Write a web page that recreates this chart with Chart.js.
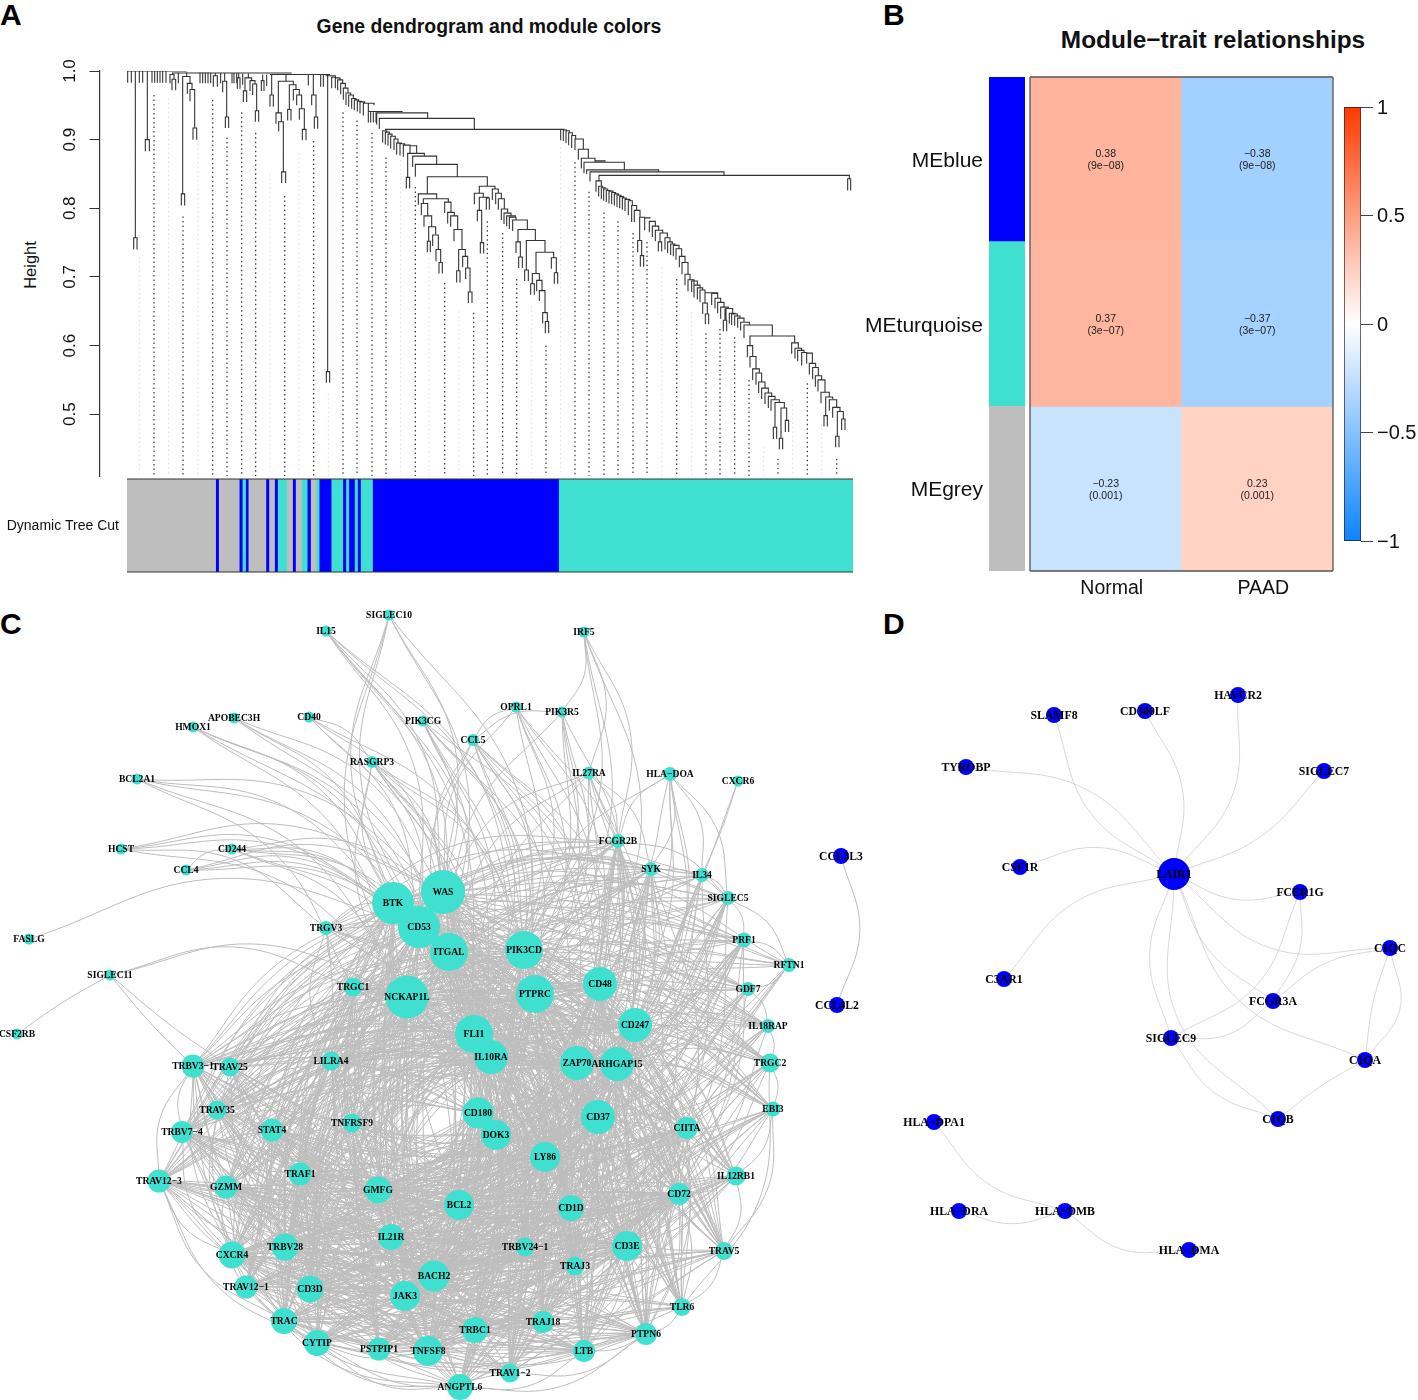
<!DOCTYPE html>
<html>
<head>
<meta charset="utf-8">
<title>WGCNA modules</title>
<script src="https://cdn.jsdelivr.net/npm/chart.js@4"></script>
<style>
    body { margin: 0; background: #fff; font-family: "Liberation Sans", Arial, sans-serif; }
    #page { position: relative; width: 1418px; height: 1400px; overflow: hidden; }
    canvas { position: absolute; }
    .letra { position: absolute; font-weight: bold; font-size: 30px; line-height: 30px; color: #000; }
    .titulo { position: absolute; font-weight: bold; color: #111; transform: translateX(-50%); white-space: nowrap; }
    .altura { position: absolute; left: 30px; top: 265px; font-size: 16.5px; color: #111; transform: translate(-50%, -50%) rotate(-90deg); }
</style>
</head>
<body>
<div id="page">
    <div class="letra" style="left:0;top:0">A</div>
    <div class="letra" style="left:883px;top:0">B</div>
    <div class="letra" style="left:0;top:609px">C</div>
    <div class="letra" style="left:883px;top:609px">D</div>
    <div class="titulo" style="left:489px;top:15px;font-size:19.4px">Gene dendrogram and module colors</div>
    <div class="titulo" style="left:1213px;top:26px;font-size:24.4px">Module−trait relationships</div>
    <div class="altura">Height</div>
    <canvas id="network" width="880" height="800" style="left:0;top:600px"></canvas>
    <canvas id="hubs" width="538" height="800" style="left:880px;top:600px"></canvas>
    <canvas id="dendro" width="848" height="480" style="left:22px;top:30px"></canvas>
    <canvas id="band" width="870" height="170" style="left:0;top:440px"></canvas>
    <canvas id="modules" width="170" height="560" style="left:860px;top:40px"></canvas>
    <canvas id="heat" width="330" height="550" style="left:1020px;top:60px"></canvas>
    <canvas id="legendBar" width="88" height="470" style="left:1330px;top:90px"></canvas>
</div>
<script>
// Panel A: leaf position vs height
const heightTicks = [0.5, 0.6, 0.7, 0.8, 0.9, 1.0];

// [x, hTop, hBottom]
const stems = [
    [203,1,.983],[214,1,.983],[226,1,.757],[238,1,.983],[248,1,.983],[262,1,.9],[276,1,.983],[284,1,.983],
    [292,1,.983],[300,1,.983],[308,1,.983],[318,1,.983],[338,.998,.995],[355,.998,.982],[380,.998,.992],
    [420,.998,.982],[428,.998,.982],[436,.998,.982],[444,.998,.982],[452,.997,.982],[466,.997,.993],
    [482,.997,.982],[494,.997,.985],[516,.997,.982],[522,.997,.982],[530,.997,.982],[536,.997,.99],
    [548,.996,.98],[565,.996,.99],[608,.995,.986],[620,.995,.978],[635,.995,.965],[678,.995,.985],
    [745,.995,.979],[760,.995,.965],[782,.994,.977],[790,.994,.977],[803,.994,.562],[932,.941,.925],
    [940,.94,.925],[948,.94,.925],[925,.953,.941],[1995,.654,.637]
];

// [xLeft, xRight, h, hLeftChild, hRightChild]
const merges = [
    [203,380,1,1,1],[340,695,.997,.997,.997],[630,810,.995,.995,.995],[797,826,.993,.993,.991],
    [221,231,.757,.74,.74],[256,268,.9,.883,.883],[330,342,.995,.982,.988],[336,347,.988,.972,.972],
    [368,390,.992,.821,.982],[364,374,.821,.804,.804],[382,396,.982,.967,.973],[390,404,.973,.956,.917],
    [399,410,.917,.9,.9],[460,472,.993,.977,.977],[488,500,.985,.969,.933],[496,506,.933,.917,.917],
    [532,540,.99,.974,.974],[555,575,.99,.971,.986],[550,560,.971,.955,.955],[570,585,.986,.971,.981],
    [578,590,.981,.965,.942],[586,596,.942,.926,.926],[604,612,.986,.971,.971],[630,640,.965,.948,.948],
    [655,700,.985,.939,.98],[648,664,.939,.923,.926],[656,670,.926,.912,.853],[665,677,.853,.837,.837],
    [688,708,.98,.944,.973],[683,693,.944,.928,.928],[700,718,.973,.957,.965],[710,725,.965,.95,.945],
    [718,733,.945,.929,.915],[727,738,.915,.899,.899],[755,768,.965,.95,.933],[763,773,.933,.916,.916],
    [799,809,.562,.546,.546],
    [815,826,.991,.975,.99],[826,840,.99,.975,.987],[833,848,.987,.972,.982],[842,856,.982,.966,.975],
    [850,864,.975,.958,.968],[858,872,.968,.95,.965],[866,880,.965,.948,.96],[875,888,.96,.945,.958],
    [883,896,.958,.943,.956],[892,904,.956,.941,.955],[900,914,.955,.938,.953],[910,942,.953,.935,.95],
    [925,1028,.941,.925,.941],[950,1103,.939,.922,.931],[958,1243,.931,.916,.915],[975,1505,.915,.915,.915],
    [968,980,.913,.896,.911],[976,988,.911,.893,.908],[984,996,.908,.891,.905],[992,1006,.905,.887,.901],
    [1002,1014,.901,.885,.895],[1010,1024,.895,.878,.894],[1020,1034,.894,.877,.892],[1030,1050,.892,.875,.891],
    [1050,1070,.891,.88,.88],[1043,1093,.88,.845,.876],[1039,1049,.845,.829,.829],[1058,1130,.876,.86,.864],
    [1066,1192,.864,.846,.846],[1102,1282,.846,.821,.832],[1075,1130,.821,.805,.814],[1090,1165,.814,.807,.809],
    [1084,1103,.807,.79,.789],[1092,1115,.789,.773,.773],[1106,1127,.773,.752,.762],[1102,1111,.752,.736,.736],
    [1118,1135,.761,.745,.74],[1128,1142,.74,.723,.721],[1137,1147,.721,.705,.705],[1154,1173,.809,.793,.794],
    [1163,1183,.794,.778,.789],[1172,1193,.789,.773,.769],[1182,1206,.769,.752,.74],[1196,1216,.74,.709,.73],
    [1190,1200,.709,.692,.692],[1208,1223,.73,.714,.713],[1217,1230,.713,.697,.678],[1225,1236,.678,.662,.662],
    [1258,1305,.832,.822,.828],[1243,1270,.822,.806,.816],[1258,1285,.816,.797,.815],[1252,1265,.797,.781,.75],
    [1261,1271,.75,.734,.734],[1279,1288,.815,.798,.798],[1297,1315,.828,.812,.822],[1307,1324,.822,.806,.814],
    [1315,1333,.814,.798,.799],[1324,1343,.799,.783,.793],[1332,1353,.793,.777,.789],[1340,1366,.789,.774,.787],
    [1348,1368,.787,.77,.783],[1358,1402,.783,.767,.769],[1374,1426,.769,.751,.753],[1368,1381,.751,.735,.729],
    [1376,1387,.729,.713,.713],[1399,1455,.753,.71,.736],[1394,1405,.71,.694,.694],[1428,1481,.736,.705,.728],
    [1417,1438,.705,.69,.695],[1412,1423,.69,.674,.674],[1430,1446,.695,.679,.68],[1438,1455,.68,.665,.648],
    [1448,1462,.648,.632,.635],[1456,1466,.635,.618,.618],[1474,1489,.728,.712,.706],[1483,1493,.706,.69,.69],
    [1502,1512,.915,.899,.914],[1510,1520,.914,.898,.913],[1518,1528,.913,.895,.91],[1526,1537,.91,.892,.906],
    [1535,1547,.906,.888,.901],[1545,1570,.901,.885,.886],[1555,1585,.886,.871,.873],[1564,1605,.873,.858,.867],
    [1572,1693,.867,.851,.857],[1605,1637,.869,.869,.869],[1580,1796,.856,.85,.853],[1590,1992,.853,.839,.848],
    [1617,2368,.848,.841,.843],[2363,2372,.843,.826,.826],[1608,1624,.84,.824,.832],[1616,1628,.832,.817,.83],
    [1624,1636,.83,.813,.828],[1631,1643,.828,.811,.826],[1639,1651,.826,.809,.825],[1647,1659,.825,.807,.823],
    [1655,1667,.823,.806,.821],[1663,1675,.821,.804,.819],[1671,1683,.819,.802,.817],[1679,1691,.817,.8,.815],
    [1687,1699,.815,.798,.813],[1695,1710,.813,.796,.811],[1705,1717,.811,.79,.804],[1715,1730,.804,.78,.797],
    [1723,1740,.797,.78,.787],[1739,1754,.787,.753,.786],[1733,1745,.753,.736,.731],[1741,1751,.731,.715,.715],
    [1754,1770,.786,.768,.785],[1768,1786,.781,.765,.774],[1777,1796,.774,.758,.768],[1786,1808,.768,.752,.764],
    [1800,1822,.764,.751,.757],[1795,1805,.751,.737,.737],[1815,1830,.757,.74,.751],[1823,1837,.751,.735,.748],
    [1832,1845,.748,.732,.746],[1840,1857,.746,.73,.741],[1848,1865,.741,.725,.73],[1858,1875,.73,.714,.721],
    [1866,1884,.721,.704,.704],[1875,1890,.704,.688,.696],[1884,1902,.696,.679,.688],[1895,1912,.694,.678,.688],
    [1902,1920,.688,.67,.684],[1912,1928,.684,.667,.681],[1920,1935,.681,.663,.677],[1935,1973,.677,.661,.676],
    [1928,1942,.662,.646,.646],[1936,1946,.646,.631,.631],[1955,1973,.676,.659,.669],[1965,1982,.669,.654,.663],
    [1973,1992,.663,.647,.656],[1982,2005,.656,.639,.654],[1990,2000,.637,.621,.621],[1998,2018,.654,.636,.647],
    [2008,2025,.647,.632,.646],[2015,2032,.646,.63,.642],[2024,2040,.643,.629,.64],[2033,2052,.64,.626,.634],
    [2042,2068,.634,.622,.63],[2052,2137,.63,.611,.614],[2070,2204,.614,.6,.604],[2062,2078,.6,.583,.584],
    [2070,2088,.584,.568,.566],[2078,2098,.566,.55,.56],[2088,2105,.56,.543,.547],[2096,2115,.547,.531,.538],
    [2105,2125,.538,.522,.531],[2115,2135,.531,.515,.526],[2125,2145,.526,.509,.521],[2133,2158,.521,.505,.517],
    [2145,2173,.517,.481,.509],[2140,2150,.481,.464,.464],[2163,2180,.509,.465,.491],[2158,2168,.465,.449,.449],
    [2176,2186,.491,.474,.474],[2195,2215,.604,.588,.596],[2205,2225,.596,.581,.593],[2213,2232,.593,.577,.59],
    [2225,2240,.59,.571,.589],[2240,2257,.589,.574,.574],[2248,2267,.574,.558,.568],[2258,2275,.568,.551,.556],
    [2266,2285,.556,.54,.55],[2274,2295,.55,.533,.532],[2283,2308,.532,.516,.525],[2297,2318,.525,.498,.522],
    [2292,2302,.498,.482,.482],[2308,2330,.521,.505,.51],[2318,2340,.51,.495,.504],[2332,2350,.504,.468,.493],
    [2327,2337,.468,.452,.452],[2345,2355,.493,.477,.477]
];

// [x, hTop] of the guide lines under the tree
const guidesDark = [
    [282,.965],[369,.788],[458,.958],[501,.903],[545,.94],[587,.91],[674,.818],[761,.898],[849,.94],[891,.928],
    [936,.91],[978,.874],[1066,.831],[1154,.691],[1241,.648],[1282,.781],[1328,.764],[1370,.697],[1458,.6],
    [1545,.867],[1587,.824],[1632,.794],[1674,.781],[1719,.764],[1761,.751],[1850,.697],[1938,.618],[1980,.624],
    [2024,.612],[2067,.55],[2154,.435],[2242,.545],[2330,.435]
];
const guidesFaint = [
    [238,.729],[326,.96],[414,.9],[630,.85],[717,.88],[805,.53],[1022,.87],[1107,.8],[1197,.65],[1415,.658],
    [1502,.889],[1805,.714],[1895,.649],[2110,.452],[2198,.521],[2285,.486]
];

const bandColors = ["#BEBEBE","#0000FF","#BEBEBE","#0000FF","#40E0D0","#0000FF","#BEBEBE","#0000FF","#BEBEBE","#0000FF",
    "#40E0D0","#BEBEBE","#0000FF","#BEBEBE","#40E0D0","#0000FF","#BEBEBE","#40E0D0","#0000FF","#40E0D0","#0000FF","#40E0D0",
    "#0000FF","#40E0D0","#0000FF","#40E0D0","#0000FF","#40E0D0"];
const bandWidths = [266,9,62,9,10,8,53,9,17,9,27,18,9,18,17,10,17,9,36,35,9,9,17,9,9,36,559,884];

// Panel B
const modules = ["MEblue", "MEturquoise", "MEgrey"];
const moduleColors = ["#0000FF", "#40E0D0", "#BEBEBE"];
const traits = ["Normal", "PAAD"];
const corNormal = [0.38, 0.37, -0.23];
const corPaad = [-0.38, -0.37, 0.23];
const pNormal = ["9e−08", "3e−07", "0.001"];
const pPaad = ["9e−08", "3e−07", "0.001"];
const legendTicks = [-1, -0.5, 0, 0.5, 1];

// Panel C
const geneNames = ["SIGLEC10","IL15","IRF5","APOBEC3H","HMOX1","CD40","PIK3CG","OPRL1","PIK3R5","CCL5","RASGRP3","IL27RA",
    "HLA−DOA","CXCR6","BCL2A1","HCST","CD244","CCL4","FCGR2B","SYK","IL34","SIGLEC5","TRGV3","FASLG","SIGLEC11","CSF2RB",
    "PRF1","RFTN1","GDF7","IL18RAP","TRGC2","EBI3","BTK","WAS","CD53","ITGAL","PIK3CD","CD48","PTPRC","NCKAP1L","TRGC1",
    "CD247","FLI1","IL10RA","ZAP70","ARHGAP15","LILRA4","TRBV3−1","TRAV25","TRAV35","STAT4","TNFRSF9","CD180","DOK3","CD37",
    "CIITA","TRBV7−4","TRAV12−3","GZMM","TRAF1","GMFG","LY86","IL12RB1","CD72","BCL2","CD1D","CXCR4","TRBV28","IL21R",
    "TRBV24−1","CD3E","TRAV5","TRAV12−1","BACH2","TRAJ3","CD3D","JAK3","TLR6","TRAC","TRAJ18","TRBC1","PTPN6","CYTIP",
    "PSTPIP1","TNFSF8","LTB","TRAV1−2","ANGPTL6","CCL3L3","CCL4L2"];
const layoutX = [389,326,584,234,193,309,423,516,562,473,372,589,670,738,137,121,232,186,618,651,702,728,326,29,110,17,
    744,789,748,768,770,773,393,443,419,449,524,600,535,407,353,635,474,491,577,617,331,193,230,217,272,352,478,496,598,
    687,182,159,226,300,378,545,736,679,459,571,232,285,391,525,627,724,246,434,575,310,405,682,284,543,475,646,317,379,
    428,584,510,460,841,837];
const layoutY = [615,631,632,718,727,717,721,707,712,740,762,773,774,781,779,849,849,870,841,869,875,898,928,939,975,1034,
    940,965,989,1026,1063,1109,903,892,927,952,950,984,994,997,987,1025,1034,1057,1063,1064,1061,1066,1067,1110,1130,1123,
    1113,1135,1117,1128,1132,1181,1187,1174,1190,1157,1176,1194,1205,1208,1255,1247,1237,1247,1246,1251,1287,1276,1266,
    1289,1296,1307,1321,1322,1330,1334,1343,1349,1351,1351,1373,1387,856,1005];
const geneDegree = [11,11,11,11,11,11,11,11,11,12,12,13,14,11,11,11,11,11,14,14,14,14,14,11,11,11,15,14,14,14,19,15,42,44,
    42,38,38,34,38,43,19,34,38,34,34,34,19,23,19,19,23,19,31,30,34,22,22,23,23,23,27,30,19,22,30,26,27,27,26,19,30,18,23,
    31,19,27,30,18,26,22,26,22,26,23,30,22,19,26,16,16];

// links read one by one where the net is sparse
const sparseLinks = {
    "SIGLEC10": ["BTK","WAS","CD53","NCKAP1L","ITGAL","PTPRC"],
    "IL15": ["WAS","CD53","PIK3CD","FLI1","ITGAL","PTPRC","IL10RA"],
    "IRF5": ["PIK3R5","IL27RA","FCGR2B","PIK3CD","CD48","PTPRC"],
    "APOBEC3H": ["WAS","BTK","FLI1","ITGAL"],
    "HMOX1": ["BTK","CD53","NCKAP1L","ITGAL","FLI1"],
    "CD40": ["RASGRP3","WAS","CD53","PIK3CD","FLI1"],
    "PIK3CG": ["WAS","ITGAL","PIK3CD","PTPRC","CD48","FLI1","ZAP70","IL10RA"],
    "OPRL1": ["CCL5","PIK3CD","PTPRC","CD48","CD247","WAS","FLI1","ZAP70"],
    "PIK3R5": ["CCL5","PIK3CD","PTPRC","CD48","FLI1","ITGAL","IL10RA"],
    "CCL5": ["WAS","ITGAL","PIK3CD","PTPRC","CD48","FLI1","IL10RA","ZAP70","CD247","ARHGAP15"],
    "RASGRP3": ["BTK","WAS","CD53","ITGAL","NCKAP1L","PIK3CD","FLI1","PTPRC","IL10RA","CD180"],
    "IL27RA": ["FCGR2B","WAS","PIK3CD","PTPRC","CD48","ITGAL","FLI1","ZAP70","SYK","ARHGAP15"],
    "HLA−DOA": ["FCGR2B","SYK","IL34","CD48","CD247","PTPRC","ZAP70","ARHGAP15","PIK3CD","SIGLEC5"],
    "BCL2A1": ["WAS","BTK","NCKAP1L","TRGC1","ITGAL"],
    "HCST": ["BTK","WAS","CD53","TRGV3","NCKAP1L"],
    "CD244": ["BTK","CD53","ITGAL","NCKAP1L","WAS","FLI1"],
    "CCL4": ["BTK","CD53","CD244","WAS","ITGAL"],
    "TRGV3": ["BTK","CD53","NCKAP1L","ITGAL","TRGC1","FLI1","PTPRC","IL10RA","LILRA4","DOK3","CD180","BCL2","SYK","FCGR2B"],
    "FASLG": ["CD53"],
    "SIGLEC11": ["NCKAP1L","TRGC1"],
    "CCL3L3": ["CCL4L2"]
};
// nearly straight in the picture
const straightLinks = [["SIGLEC11","CSF2RB"],["SIGLEC11","TRBV3−1"],["SIGLEC11","TRAV25"],["CXCR6","IL34"],["CXCR6","CD247"]];
const rimLinks = [
    ["TRAV12−3","TRBV3−1"],["TRAV12−3","CXCR4"],["TRAV12−3","TRAC"],["TRAV12−3","CYTIP"],["TRBV3−1","TRBV7−4"],
    ["TRBV7−4","CXCR4"],["CXCR4","ANGPTL6"],["TRAV12−1","ANGPTL6"],["TRAC","ANGPTL6"],["CYTIP","ANGPTL6"],["CYTIP","TRAV1−2"],
    ["ANGPTL6","LTB"],["ANGPTL6","PTPN6"],["TRAV1−2","PTPN6"],["PTPN6","TLR6"],["TLR6","TRAV5"],["TRAV5","IL12RB1"],
    ["TRAV5","EBI3"],["CD72","TRAV5"],["IL12RB1","EBI3"],["EBI3","TRGC2"],["TRGC2","IL18RAP"],["TRGC2","TLR6"],
    ["IL18RAP","GDF7"],["GDF7","RFTN1"],["RFTN1","PRF1"],["RFTN1","SIGLEC5"],["PRF1","SIGLEC5"],["SIGLEC5","IL34"],
    ["SYK","SIGLEC5"],["FCGR2B","SIGLEC5"],["WAS","SIGLEC5"],["WAS","RFTN1"],["BTK","PRF1"],["WAS","IL34"],
    ["BTK","SIGLEC5"],["CD53","IL34"],["NCKAP1L","PRF1"],["ITGAL","SIGLEC5"]
];
// each gene here is linked to the first coreLinks[i] genes of this ranking
const coreOrder = ["WAS","FLI1","BTK","ARHGAP15","NCKAP1L","CD37","PTPRC","BCL2","CD53","LY86","IL10RA","BACH2","ITGAL","CD3E",
    "PIK3CD","JAK3","ZAP70","GMFG","CD247","TRBV28","CD48","TNFSF8","DOK3","CXCR4","CD180","CD72","CD1D","TRAF1","IL21R","TRBC1",
    "CD3D","CIITA","STAT4","PTPN6","GZMM","TRAC","TRBV7−4","TRAJ18","TRAV12−3","LTB","TNFRSF9","TRAV5","TRBV24−1","TRBV3−1",
    "TRAJ3","CYTIP","LILRA4","IL12RB1","TRGC1","PSTPIP1","TRAV35","TLR6","TRAV25","ANGPTL6","TRAV12−1","TRAV1−2",
    "FCGR2B","SYK","IL34","SIGLEC5","PRF1","RFTN1","GDF7","IL18RAP","TRGC2","EBI3"];
const coreLinks = [0,1,2,3,4,5,6,7,8,9,10,11,12,13,14,15,16,17,18,19,20,21,22,23,24,25,26,27,28,29,30,31,32,33,34,35,33,37,33,
    38,38,30,38,36,38,36,38,30,36,32,30,28,30,32,30,30,24,26,16,20,26,12,20,20,22,24];

// Panel D
const hubNames = ["SLAMF8","CD300LF","HAVCR2","TYROBP","SIGLEC7","CSF1R","LAIR1","FCER1G","C3AR1","C1QC","FCGR3A","SIGLEC9",
    "C1QA","C1QB","HLA−DPA1","HLA−DRA","HLA−DMB","HLA−DMA"];
const hubX = [1054,1145,1238,966,1324,1020,1174,1300,1004,1390,1273,1171,1365,1278,934,959,1065,1189];
const hubY = [715,711,695,767,771,867,874,892,979,948,1001,1038,1060,1119,1122,1211,1211,1250];
const hubDegree = [16,16,16,16,16,16,32,16,16,16,16,16,16,16,16,16,16,16];
// [from, to, bow]
const hubLinks = [
    ["LAIR1","SLAMF8",-.15],["LAIR1","TYROBP",.15],["LAIR1","CD300LF",.14],["LAIR1","HAVCR2",.15],["LAIR1","SIGLEC7",.1],
    ["LAIR1","CSF1R",.15],["LAIR1","C3AR1",.14],["LAIR1","FCER1G",.13],["LAIR1","C1QC",.17],["LAIR1","FCGR3A",.12],
    ["LAIR1","C1QA",.17],["LAIR1","SIGLEC9",.14],["LAIR1","C1QB",.2],["FCER1G","SIGLEC9",-.15],["FCER1G","FCGR3A",-.12],
    ["FCGR3A","C1QC",-.1],["C1QC","C1QA",.04],["C1QC","C1QA",-.2],["C1QA","C1QB",.03],["SIGLEC9","C1QB",.13],
    ["SIGLEC9","FCGR3A",.15],["HLA−DPA1","HLA−DMB",.13],["HLA−DRA","HLA−DMB",.12],["HLA−DMB","HLA−DMA",.15]
];

const GAP = { x: NaN, y: NaN };

Chart.defaults.animation = false;
Chart.defaults.font.family = '"Liberation Sans", Arial, sans-serif';
Chart.defaults.layout.autoPadding = false;
Chart.defaults.plugins.legend.display = false;
Chart.defaults.plugins.tooltip.enabled = false;

// Frame around a plot area
const framePlugin = {
    id: 'frame',
    afterDatasetsDraw(chart, args, opts) {
        if (!opts.color) return;
        const { ctx, chartArea: a } = chart;
        ctx.save();
        ctx.strokeStyle = opts.color;
        ctx.lineWidth = opts.width || 1;
        ctx.beginPath();
        ctx.moveTo(a.left, a.top); ctx.lineTo(a.right, a.top);
        ctx.moveTo(a.left, a.bottom); ctx.lineTo(a.right, a.bottom);
        if (!opts.onlyLines) {
            ctx.moveTo(a.left, a.top); ctx.lineTo(a.left, a.bottom);
            ctx.moveTo(a.right, a.top); ctx.lineTo(a.right, a.bottom);
        }
        ctx.stroke();
        ctx.restore();
    }
};

// Gene names over the nodes
const nodeLabels = {
    id: 'nodeLabels',
    afterDatasetsDraw(chart, args, opts) {
        if (!opts.names) return;
        const { ctx, scales } = chart;
        ctx.save();
        ctx.textAlign = 'center';
        ctx.textBaseline = 'middle';
        ctx.fillStyle = '#000';
        chart.data.datasets[0].data.forEach((p, i) => {
            const big = opts.bigNames && opts.bigNames.includes(opts.names[i]);
            ctx.font = `bold ${big ? opts.bigSize : opts.size}px "Liberation Serif", serif`;
            ctx.fillText(opts.names[i], scales.x.getPixelForValue(p.x), scales.y.getPixelForValue(p.y) + 1);
        });
        ctx.restore();
    }
};

// Correlation and p value inside every heatmap cell
const cellLabels = {
    id: 'cellLabels',
    afterDatasetsDraw(chart) {
        const { ctx, scales } = chart;
        ctx.save();
        ctx.textAlign = 'center';
        ctx.textBaseline = 'middle';
        ctx.fillStyle = '#222';
        ctx.font = '10.5px "Liberation Sans", Arial, sans-serif';
        modules.forEach((m, row) => {
            [[corNormal, pNormal], [corPaad, pPaad]].forEach(([cor, p], col) => {
                const x = scales.x.getPixelForValue(col);
                const y = scales.y.getPixelForValue(row + 0.5);
                ctx.fillText(String(cor[row]).replace('-', '−'), x, y - 5);
                ctx.fillText(`(${p[row]})`, x, y + 7);
            });
        });
        ctx.restore();
    }
};

// Same ramp as the legend bar
function corColor(v) {
    const a = Math.abs(v);
    const end = v > 0 ? [255, 58, 0] : [10, 132, 255];
    return `rgb(${end.map(c => Math.round(255 + (c - 255) * a)).join(',')})`;
}

function treePoints(list) {
    const pts = [];
    list.forEach(([xl, xr, h, hl, hr]) => {
        pts.push({ x: xl, y: hl }, { x: xl, y: h }, { x: xr, y: h }, { x: xr, y: hr }, GAP);
    });
    return pts;
}

const stemPoints = [];
stems.forEach(([x, top, bottom]) => stemPoints.push({ x, y: top }, { x, y: bottom }, GAP));

function guidePoints(list) {
    const pts = [];
    list.forEach(([x, top]) => pts.push({ x, y: top }, { x, y: 0.41 }, GAP));
    return pts;
}

new Chart(document.getElementById('dendro'), {
    type: 'scatter',
    data: {
        datasets: [
            { data: [...treePoints(merges), ...stemPoints], showLine: true, pointRadius: 0, borderColor: '#333', borderWidth: 1.1 },
            { data: guidePoints(guidesDark), showLine: true, pointRadius: 0, borderColor: '#444', borderWidth: 1.3, borderDash: [1.5, 3] },
            { data: guidePoints(guidesFaint), showLine: true, pointRadius: 0, borderColor: '#ddd', borderWidth: 1, borderDash: [1.5, 3] }
        ]
    },
    options: {
        responsive: false,
        layout: { padding: { top: 41, right: 17, bottom: 34 } },
        scales: {
            x: { type: 'linear', display: false, min: 118.5, max: 2379 },
            y: {
                min: 0.41,
                max: 1,
                afterFit(s) { s.width = 77.5; },
                afterBuildTicks(s) { s.ticks = heightTicks.map(value => ({ value })); },
                border: { color: '#333', width: 1.2 },
                grid: { drawOnChartArea: false, tickLength: 10, color: '#333' },
                ticks: {
                    color: '#111',
                    font: { size: 17 },
                    minRotation: 90,
                    maxRotation: 90,
                    crossAlign: 'center',
                    padding: 7,
                    callback: v => v.toFixed(1)
                }
            }
        }
    }
});

new Chart(document.getElementById('band'), {
    type: 'bar',
    plugins: [framePlugin],
    data: {
        labels: ['Dynamic Tree Cut'],
        datasets: bandWidths.map((w, i) => ({ data: [w], backgroundColor: bandColors[i], barPercentage: 1, categoryPercentage: 1 }))
    },
    options: {
        responsive: false,
        indexAxis: 'y',
        layout: { padding: { top: 39, right: 17, bottom: 38 } },
        plugins: { frame: { color: '#333', width: 1.2, onlyLines: true } },
        scales: {
            x: { display: false, stacked: true, min: 0, max: 2180 },
            y: {
                stacked: true,
                afterFit(s) { s.width = 127; },
                border: { display: false },
                grid: { display: false, drawTicks: false },
                ticks: { color: '#111', font: { size: 14 }, padding: 8, labelOffset: 1 }
            }
        }
    }
});

new Chart(document.getElementById('modules'), {
    type: 'bar',
    data: {
        labels: modules,
        datasets: [{ data: modules.map(() => 1), backgroundColor: moduleColors, barPercentage: 1, categoryPercentage: 1 }]
    },
    options: {
        responsive: false,
        indexAxis: 'y',
        layout: { padding: { top: 37, right: 5, bottom: 29 } },
        scales: {
            x: { display: false, min: 0, max: 1 },
            y: {
                afterFit(s) { s.width = 129; },
                border: { display: false },
                grid: { display: false, drawTicks: false },
                ticks: { color: '#111', font: { size: 21 }, padding: 6, labelOffset: 2 }
            }
        }
    }
});

new Chart(document.getElementById('heat'), {
    type: 'bar',
    plugins: [framePlugin, cellLabels],
    data: {
        labels: traits,
        datasets: modules.map((m, row) => ({
            label: m,
            data: traits.map(() => 1),
            backgroundColor: [corColor(corNormal[row]), corColor(corPaad[row])],
            barPercentage: 1,
            categoryPercentage: 1
        }))
    },
    options: {
        responsive: false,
        layout: { padding: { left: 10, right: 17, top: 17 } },
        plugins: { frame: { color: '#555', width: 1.3 } },
        scales: {
            x: {
                stacked: true,
                afterFit(s) { s.height = 39; },
                border: { display: false },
                grid: { display: false, drawTicks: false },
                ticks: { color: '#111', font: { size: 19.5 }, padding: 6, labelOffset: 6, maxRotation: 0 }
            },
            y: { stacked: true, display: false, reverse: true, min: 0, max: 3 }
        }
    }
});

new Chart(document.getElementById('legendBar'), {
    type: 'bar',
    data: {
        labels: [''],
        datasets: [{
            data: [[-1, 1]],
            barPercentage: 1,
            categoryPercentage: 1,
            borderColor: '#222',
            borderWidth: 1,
            borderSkipped: false,
            backgroundColor(c) {
                const a = c.chart.chartArea;
                if (!a) return '#fff';
                const g = c.chart.ctx.createLinearGradient(0, a.bottom, 0, a.top);
                legendTicks.forEach(v => g.addColorStop((v + 1) / 2, corColor(v)));
                return g;
            }
        }]
    },
    options: {
        responsive: false,
        layout: { padding: { left: 14, top: 17, bottom: 19 } },
        scales: {
            x: { display: false },
            y: {
                position: 'right',
                min: -1,
                max: 1,
                afterFit(s) { s.width = 57; },
                afterBuildTicks(s) { s.ticks = legendTicks.map(value => ({ value })); },
                border: { display: false },
                grid: { drawOnChartArea: false, tickLength: 12, color: '#444' },
                ticks: { color: '#111', font: { size: 20 }, padding: 4, labelOffset: 1, callback: v => String(v).replace('-', '−') }
            }
        }
    }
});

// Edge through a bowed middle point, the spline of the line element does the curve
function pushEdge(pts, a, b, bow) {
    const dx = b.x - a.x, dy = b.y - a.y;
    pts.push(a, { x: (a.x + b.x) / 2 - dy * bow, y: (a.y + b.y) / 2 + dx * bow }, b, GAP);
}

const genes = {};
geneNames.forEach((n, i) => { genes[n] = { x: layoutX[i], y: layoutY[i] }; });

function networkEdges() {
    const seen = new Set();
    const pairs = [];
    const add = (a, b, bow) => {
        const key = [a, b].sort().join('|');
        if (a !== b && !seen.has(key)) { seen.add(key); pairs.push([a, b, bow]); }
    };
    Object.entries(sparseLinks).forEach(([a, list]) => list.forEach(b => add(a, b, 0.14)));
    straightLinks.forEach(([a, b]) => add(a, b, 0.02));
    rimLinks.forEach(([a, b]) => add(a, b, 0.14));
    coreOrder.forEach((a, i) => coreOrder.slice(0, coreLinks[i]).forEach(b => add(a, b, i < 24 ? 0.04 : 0.1)));
    const pts = [];
    pairs.forEach(([a, b, bow]) => {
        const p = genes[a], q = genes[b];
        // bow away from the middle of the net
        const mx = (p.x + q.x) / 2 - 440, my = (p.y + q.y) / 2 - 1120;
        const side = (-(q.y - p.y) * mx + (q.x - p.x) * my) >= 0 ? 1 : -1;
        pushEdge(pts, p, q, bow * side);
    });
    return pts;
}

function networkOptions(xMin, xMax, labels) {
    return {
        responsive: false,
        layout: { padding: 0 },
        plugins: { nodeLabels: labels },
        scales: {
            x: { type: 'linear', display: false, min: xMin, max: xMax },
            y: { type: 'linear', display: false, min: 600, max: 1400, reverse: true }
        }
    };
}

const blueGenes = ["CCL3L3", "CCL4L2"];

new Chart(document.getElementById('network'), {
    type: 'scatter',
    plugins: [nodeLabels],
    data: {
        datasets: [
            {
                data: geneNames.map(n => genes[n]),
                pointRadius: c => geneDegree[c.dataIndex] / 2,
                pointBackgroundColor: c => blueGenes.includes(geneNames[c.dataIndex]) ? '#0000FF' : '#40E0D0',
                pointBorderWidth: 0,
                clip: false
            },
            { data: networkEdges(), showLine: true, pointRadius: 0, borderColor: '#BDBDBD', borderWidth: 1, tension: 0.4 }
        ]
    },
    options: networkOptions(0, 880, { names: geneNames, size: 9.6, bigNames: blueGenes, bigSize: 11.6 })
});

const hubs = {};
hubNames.forEach((n, i) => { hubs[n] = { x: hubX[i], y: hubY[i] }; });
const hubEdges = [];
hubLinks.forEach(([a, b, bow]) => pushEdge(hubEdges, hubs[a], hubs[b], bow));

new Chart(document.getElementById('hubs'), {
    type: 'scatter',
    plugins: [nodeLabels],
    data: {
        datasets: [
            {
                data: hubNames.map(n => hubs[n]),
                pointRadius: c => hubDegree[c.dataIndex] / 2,
                pointBackgroundColor: '#0000FF',
                pointBorderWidth: 0,
                clip: false
            },
            { data: hubEdges, showLine: true, pointRadius: 0, borderColor: '#CFCFCF', borderWidth: 0.8, tension: 0.4 }
        ]
    },
    options: networkOptions(880, 1418, { names: hubNames, size: 11.8 })
});
</script>
</body>
</html>
